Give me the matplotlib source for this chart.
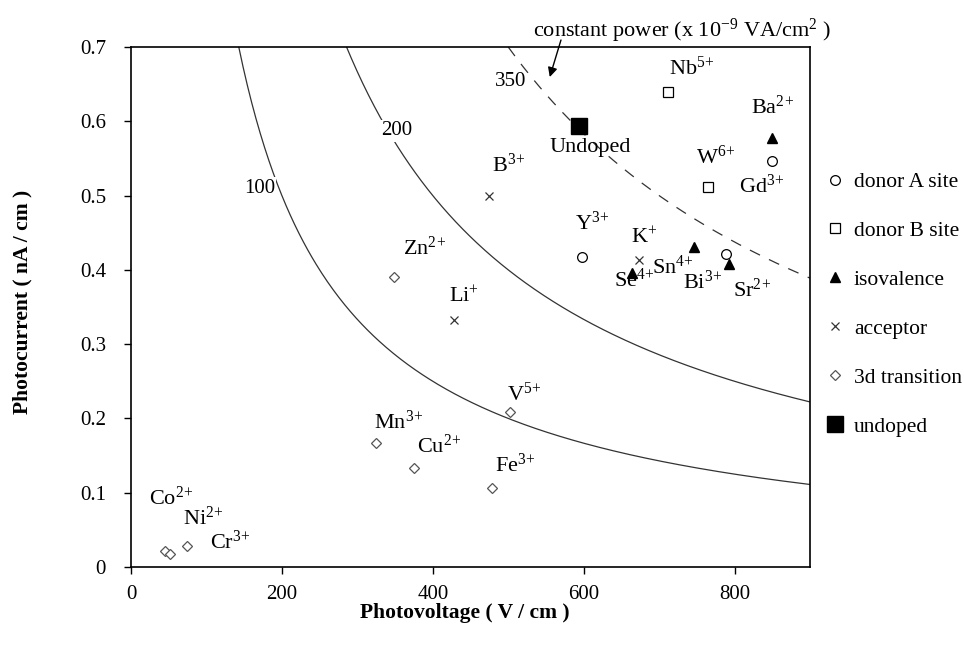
import numpy as np
import matplotlib
matplotlib.use("Agg")
import matplotlib.pyplot as plt

plt.rcParams['font.family'] = ['Liberation Serif', 'DejaVu Serif']
plt.rcParams['mathtext.fontset'] = 'custom'
plt.rcParams['mathtext.rm'] = 'Liberation Serif'
plt.rcParams['mathtext.it'] = 'Liberation Serif:italic'
plt.rcParams['mathtext.bf'] = 'Liberation Serif:bold'
plt.rcParams['mathtext.default'] = 'regular'

# dopant data: photovoltage (V/cm), photocurrent (nA/cm)
donorA_names = ['Y$^{3\\!+}$', 'Gd$^{3\\!+}$', 'Bi$^{3\\!+}$']
donorA_x = [598, 849, 789]
donorA_y = [0.417, 0.547, 0.421]

donorB_names = ['Nb$^{5\\!+}$', 'W$^{6\\!+}$']
donorB_x = [712, 765]
donorB_y = [0.640, 0.511]

iso_names = ['Ba$^{2\\!+}$', 'Sn$^{4\\!+}$', 'Se$^{4\\!+}$', 'Sr$^{2\\!+}$']
iso_x = [850, 746, 664, 792]
iso_y = [0.578, 0.431, 0.396, 0.408]

acc_names = ['B$^{3\\!+}$', 'Li$^{+}$', 'K$^{+}$']
acc_x = [474, 428, 673]
acc_y = [0.500, 0.333, 0.413]

tr_names = ['Zn$^{2\\!+}$', 'V$^{5\\!+}$', 'Mn$^{3\\!+}$', 'Cu$^{2\\!+}$', 'Fe$^{3\\!+}$',
            'Co$^{2\\!+}$', 'Ni$^{2\\!+}$', 'Cr$^{3\\!+}$']
tr_x = [349, 502, 325, 375, 478, 45, 52, 74]
tr_y = [0.390, 0.208, 0.167, 0.133, 0.106, 0.022, 0.018, 0.028]

undoped_x = [594]
undoped_y = [0.594]

# constant power curves (x 1e-9 VA/cm^2)
powers = [100, 200, 350]

x_ticks = [0, 200, 400, 600, 800]
y_ticks = [0, 0.1, 0.2, 0.3, 0.4, 0.5, 0.6, 0.7]

fig = plt.figure(figsize=(9.64, 6.58), dpi=100)
ax = fig.add_axes([131/964, 1-567/658, 679/964, 520/658])

for p in powers:
    xs = np.linspace(p / 0.7, 900, 400)
    ls = (0, (9, 8)) if p == 350 else '-'
    ax.plot(xs, p / xs, color='#333333', lw=0.9, ls=ls, zorder=1)

ax.plot(donorA_x, donorA_y, 'o', ms=7, mfc='white', mec='black', mew=0.9, ls='none', label='donor A site', zorder=3)
ax.plot(donorB_x, donorB_y, 's', ms=7, mfc='white', mec='black', mew=0.9, ls='none', label='donor B site', zorder=3)
ax.plot(iso_x, iso_y, '^', ms=7, mfc='black', mec='black', ls='none', label='isovalence', zorder=3)
ax.plot(acc_x, acc_y, 'x', ms=6, mec='#333333', mew=0.9, ls='none', label='acceptor', zorder=3)
ax.plot(tr_x, tr_y, 'D', ms=5.5, mfc='white', mec='#555555', mew=0.9, ls='none', label='3d transition', zorder=3)
ax.plot(undoped_x, undoped_y, 's', ms=11, mfc='black', mec='black', ls='none', label='undoped', zorder=3)

# point labels (text centre positions)
lab_fs = 16
label_pos = [
    (611, 0.463), (836, 0.512), (758, 0.384),
    (743, 0.672), (775, 0.551),
    (850, 0.619), (718, 0.404), (667, 0.386), (823, 0.373),
    (500, 0.541), (441, 0.363), (680, 0.443),
    (389, 0.429), (521, 0.232), (355, 0.195), (409, 0.163), (509, 0.137),
    (53, 0.093), (96, 0.066), (131, 0.034),
]
all_names = donorA_names + donorB_names + iso_names + acc_names + tr_names
for t, (lx, ly) in zip(all_names, label_pos):
    ax.text(lx, ly, t, fontsize=lab_fs, ha='center', va='center', zorder=4)
ax.text(609, 0.565, 'Undoped', fontsize=lab_fs, ha='center', va='center', zorder=4)

# curve labels
wbox = dict(facecolor='white', edgecolor='none', pad=1)
ax.text(170, 0.510, '100', fontsize=15, ha='center', va='center', bbox=wbox, zorder=2)
ax.text(352, 0.587, '200', fontsize=15, ha='center', va='center', bbox=wbox, zorder=2)
ax.text(503, 0.654, '350', fontsize=15, ha='center', va='center', zorder=2)

ax.annotate('', xy=(554, 0.656), xytext=(571, 0.713), annotation_clip=False,
            arrowprops=dict(arrowstyle='-|>', color='black', lw=1.0, mutation_scale=14))
ax.text(731, 0.721, 'constant power (x 10$^{-9}$ VA/cm$^{2}$ )', fontsize=16,
        ha='center', va='center', clip_on=False)

ax.set_xlim(0, 900)
ax.set_ylim(0, 0.7)
ax.set_xticks(x_ticks)
ax.set_yticks(y_ticks)
ax.set_yticklabels(['0'] + ['%.1f' % v for v in y_ticks[1:]])
ax.tick_params(direction='out', length=5, width=1, labelsize=15)
ax.tick_params(axis='x', pad=8)
ax.tick_params(axis='y', pad=13)
for s in ax.spines.values():
    s.set_linewidth(1.2)

fig.text(465/964, 1-613/658, 'Photovoltage ( V / cm )', fontsize=15.5, fontweight='bold',
         ha='center', va='center')
fig.text(22/964, 1-302/658, 'Photocurrent ( nA / cm )', fontsize=15.5, fontweight='bold',
         ha='center', va='center', rotation=90)

fig.legend(loc='upper left', bbox_to_anchor=(826/964, 1-172/658), frameon=False,
           fontsize=15.5, handlelength=0.8, handletextpad=0.5, labelspacing=1.34,
           borderpad=0, borderaxespad=0)

fig.savefig('out.png', dpi=100)
